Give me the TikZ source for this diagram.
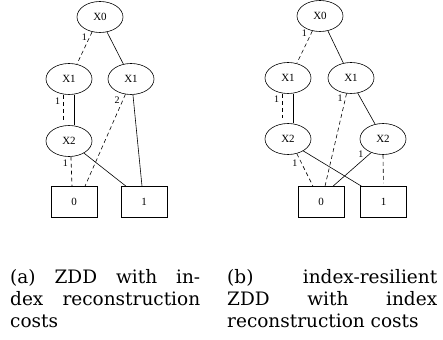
\documentclass[tikz,border=0pt]{standalone}
\usepackage{fontspec}
\newfontfamily\graphfont{Liberation Serif}
\newfontfamily\captfont{DejaVu Serif}
\usetikzlibrary{shapes.geometric}

\tikzset{
  var/.style={ellipse, draw, line width=0.6pt, minimum width=46pt, minimum height=31pt, inner sep=0pt,
    font=\graphfont\fontsize{11}{13}\selectfont},
  term/.style={rectangle, draw, line width=0.6pt, minimum width=46pt, minimum height=31pt, inner sep=0pt,
    font=\graphfont\fontsize{11}{13}\selectfont},
  lo/.style={line width=0.6pt, dash pattern=on 4pt off 3pt},
  hi/.style={line width=0.6pt},
  cost/.style={font=\graphfont\fontsize{10}{12}\selectfont, inner sep=1pt},
  capt/.style={anchor=north west, inner sep=0pt, align=left,
    font=\captfont\fontsize{18.5}{22}\selectfont}
}

\begin{document}
\begin{tikzpicture}[x=1pt, y=-1pt]
\useasboundingbox (0,0) rectangle (443,339);

% (a) ZDD
\node[var] (x0a) at (100,17) {X0};
\node[var] (x1a) at (69,79) {X1};
\node[var] (x1b) at (131,79) {X1};
\node[var] (x2a) at (69,141) {X2};
\node[term] (t0a) at (74,202) {0};
\node[term] (t1a) at (144,202) {1};

\draw[lo] (x0a.242) -- node[cost, pos=0.16, left=1.5pt] {1} (x1a.62);
\draw[hi] (x0a.295) -- (x1b.117);
\draw[lo, shorten >=5pt] ([xshift=-5.5pt]x1a.south) -- node[cost, pos=0.2, left=2pt] {1} ([xshift=-5.5pt]x2a.north);
\draw[hi] ([xshift=5pt]x1a.south) -- ([xshift=5pt]x2a.north);
\draw[lo] (x1b.250) -- node[cost, pos=0.06, left=2pt] {2} ([xshift=11pt]t0a.north);
\draw[hi] (x1b.277) -- ([xshift=-2pt]t1a.north);
\draw[lo] (x2a.277) -- node[cost, pos=0.23, left=2pt] {1} ([xshift=-2pt]t0a.north);
\draw[hi] (x2a.321) -- ([xshift=-18pt]t1a.north);

% (b) index-resilient ZDD
\node[var] (x0b) at (320,16) {X0};
\node[var] (x1c) at (288,78) {X1};
\node[var] (x1d) at (351,78) {X1};
\node[var] (x2b) at (288,139) {X2};
\node[var] (x2c) at (383,139) {X2};
\node[term] (t0b) at (321,202) {0};
\node[term] (t1b) at (383.5,202) {1};

\draw[lo] (x0b.243) -- node[cost, pos=0.08, left=3pt] {1} (x1c.59);
\draw[hi] (x0b.298) -- (x1d.117);
\draw[lo, shorten >=5pt] ([xshift=-5.5pt]x1c.south) -- node[cost, pos=0.2, left=2pt] {1} ([xshift=-5.5pt]x2b.north);
\draw[hi] ([xshift=5.5pt]x1c.south) -- ([xshift=5.5pt]x2b.north);
\draw[lo] (x1d.254) -- node[cost, pos=0.05, left=1.5pt] {1} ([xshift=4pt]t0b.north);
\draw[hi] (x1d.294) -- (x2c.118);
\draw[lo] (x2b.301) -- node[cost, pos=0.3, left=3pt] {1} ([xshift=-8pt]t0b.north);
\draw[hi] (x2b.322) -- ([xshift=-22pt]t1b.north);
\draw[hi] (x2c.229) -- node[cost, pos=0.04, left=5pt] {1} ([xshift=12pt]t0b.north);
\draw[lo, shorten >=3pt] (x2c.south) -- (t1b.north);

% captions
\node[capt] (capa) at (10,269) {\makebox[190pt][s]{(a) ZDD with in-}\\
  \makebox[190pt][s]{dex reconstruction}\\
  costs};
\node[capt] (capb) at (227,269) {\makebox[210pt][s]{(b) index-resilient}\\
  \makebox[210pt][s]{ZDD with index}\\
  reconstruction costs};
\end{tikzpicture}
\end{document}
